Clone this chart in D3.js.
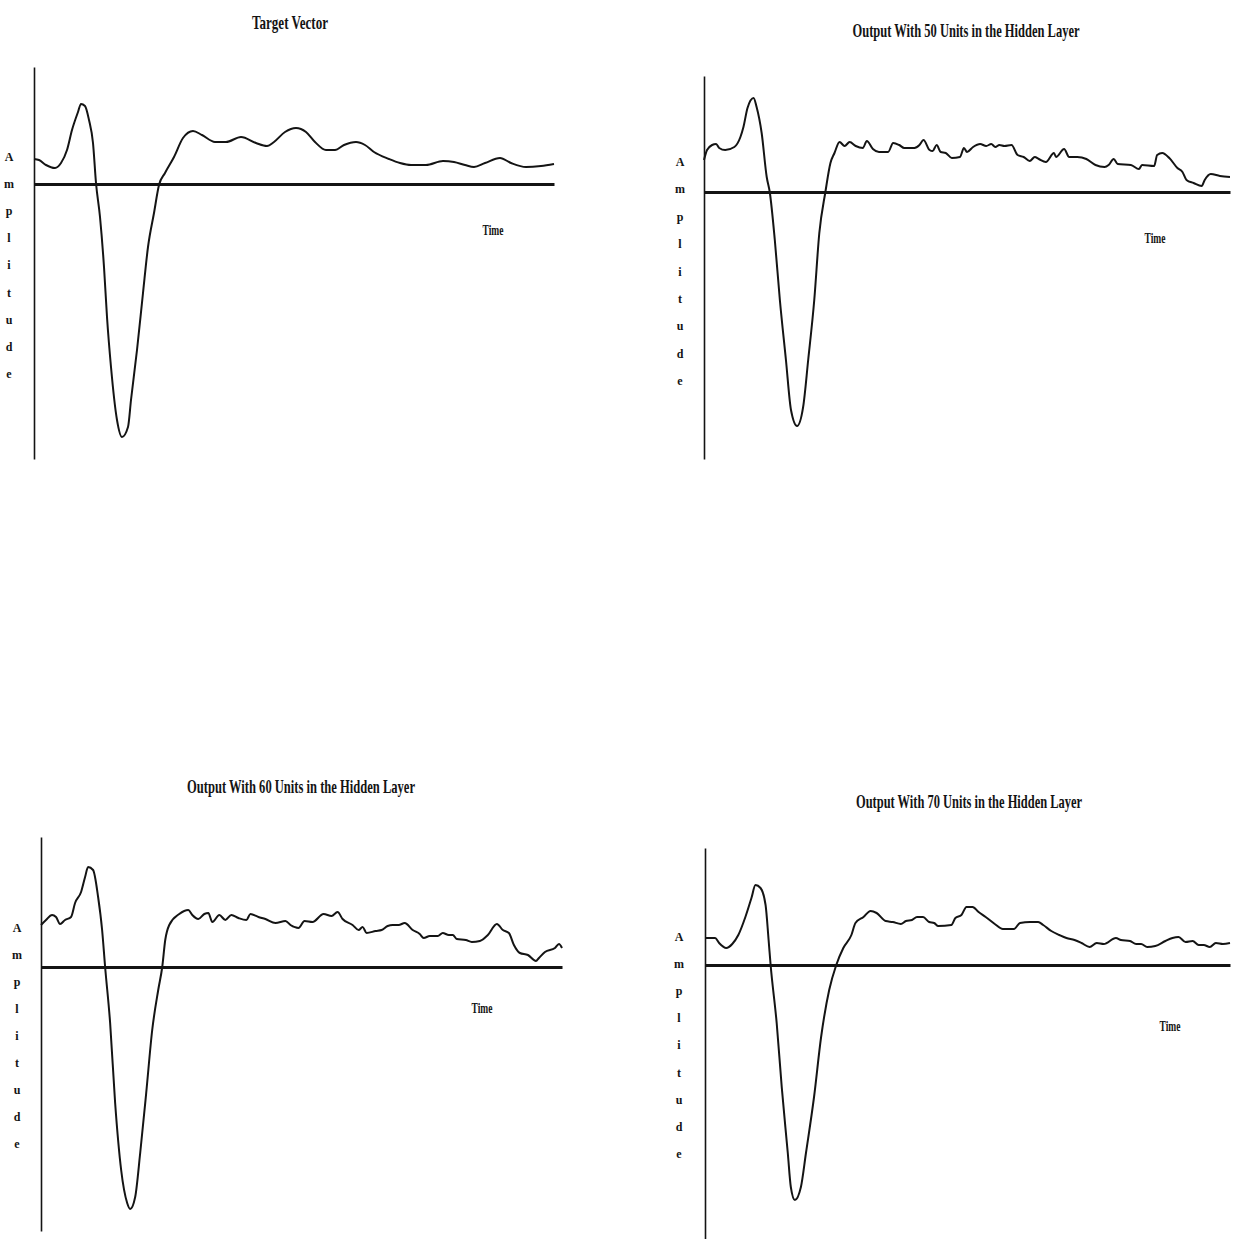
<!DOCTYPE html>
<html><head><meta charset="utf-8">
<script src="https://cdn.jsdelivr.net/npm/d3@7"></script>
<style>body{margin:0;background:#fff}</style>
</head><body>
<svg id="c" width="1238" height="1239"></svg>
<script>
// ---------- text ----------
const titles = [
  "Target Vector",
  "Output With 50 Units in the Hidden Layer",
  "Output With 60 Units in the Hidden Layer",
  "Output With 70 Units in the Hidden Layer"
];
const xLabel = "Time";
const yLabel = "Amplitude";
const timeDomain = [0, 520];

// ---------- series (time, amplitude) ----------
const targetTime = [0,5,12,21,27,33,38,44,47,51,55,59,62,66,70,73,77,83,88,94,97,103,109,114,120,125,131,140,149,159,168,181,192,207,222,233,240,251,262,272,281,292,301,310,322,331,340,355,366,377,392,409,420,431,440,451,466,477,492,507,520];
const targetAmp  = [0.25,0.24,0.19,0.16,0.21,0.34,0.54,0.72,0.80,0.78,0.64,0.41,0.01,-0.33,-0.83,-1.33,-1.83,-2.36,-2.53,-2.43,-2.16,-1.66,-1.09,-0.63,-0.29,-0.01,0.11,0.27,0.46,0.53,0.49,0.42,0.42,0.47,0.41,0.38,0.42,0.52,0.56,0.52,0.42,0.34,0.34,0.39,0.42,0.39,0.32,0.25,0.21,0.19,0.19,0.23,0.22,0.19,0.17,0.21,0.26,0.21,0.17,0.18,0.20];

const out50Time = [0,3,8,12,15,21,30,36,39,43,49,52,57,62,65,70,75,81,86,92,98,103,109,114,120,125,129,134,139,144,150,157,161,167,173,182,187,193,198,208,213,217,223,226,230,234,239,245,253,257,260,266,273,279,284,288,292,297,304,310,316,322,327,331,338,346,348,356,361,369,378,387,396,400,405,409,422,430,433,445,448,453,460,468,473,477,484,492,495,501,510,520];
const out50Amp  = [0.32,0.42,0.47,0.48,0.44,0.42,0.45,0.55,0.65,0.84,0.94,0.85,0.59,0.15,0.00,-0.48,-1.08,-1.68,-2.18,-2.34,-2.15,-1.68,-1.08,-0.41,0.00,0.29,0.39,0.50,0.46,0.50,0.46,0.44,0.51,0.43,0.40,0.40,0.49,0.47,0.44,0.44,0.47,0.52,0.42,0.41,0.47,0.40,0.39,0.34,0.35,0.44,0.40,0.45,0.48,0.46,0.48,0.45,0.47,0.46,0.47,0.37,0.35,0.31,0.35,0.33,0.30,0.39,0.35,0.43,0.35,0.35,0.33,0.27,0.25,0.27,0.33,0.28,0.27,0.23,0.27,0.26,0.37,0.39,0.34,0.24,0.20,0.12,0.09,0.06,0.12,0.18,0.16,0.15];

const out60Time = [0,5,11,15,19,24,30,34,40,44,47,52,57,61,64,69,74,80,86,89,94,99,105,111,117,121,124,128,138,147,151,157,163,167,171,178,184,190,197,205,209,217,224,234,244,249,257,263,271,282,290,296,301,311,317,321,325,334,340,346,351,357,363,371,378,382,388,396,401,407,411,415,424,430,438,446,455,461,467,472,478,486,494,497,503,513,517,520];
const out60Amp  = [0.42,0.47,0.52,0.50,0.43,0.47,0.50,0.64,0.75,0.90,1.00,0.97,0.70,0.37,0.00,-0.56,-1.36,-2.03,-2.36,-2.42,-2.30,-1.86,-1.26,-0.63,-0.23,0.00,0.27,0.42,0.53,0.57,0.52,0.48,0.53,0.54,0.45,0.52,0.47,0.52,0.49,0.47,0.53,0.50,0.48,0.44,0.46,0.42,0.39,0.46,0.45,0.53,0.51,0.55,0.48,0.42,0.37,0.40,0.34,0.36,0.37,0.41,0.42,0.42,0.44,0.37,0.33,0.29,0.31,0.31,0.34,0.32,0.32,0.28,0.27,0.25,0.26,0.32,0.43,0.37,0.34,0.22,0.14,0.12,0.06,0.09,0.15,0.19,0.23,0.19];

const out70Time = [0,10,14,21,27,33,40,46,50,55,60,63,65,71,76,82,85,89,95,100,108,115,123,130,137,145,149,157,164,170,179,186,194,199,205,210,216,222,227,231,244,248,254,259,265,271,278,287,295,306,312,322,330,335,343,351,358,366,373,381,388,395,407,412,421,427,432,438,446,456,463,469,476,483,489,494,500,506,513,520];
const out70Amp  = [0.27,0.27,0.22,0.17,0.21,0.30,0.48,0.67,0.80,0.77,0.60,0.25,0.00,-0.58,-1.22,-1.88,-2.22,-2.35,-2.22,-1.88,-1.32,-0.72,-0.25,0.00,0.17,0.30,0.42,0.48,0.54,0.52,0.44,0.43,0.41,0.44,0.45,0.48,0.48,0.43,0.42,0.39,0.40,0.47,0.50,0.58,0.58,0.53,0.48,0.41,0.36,0.36,0.42,0.43,0.43,0.40,0.34,0.30,0.27,0.25,0.22,0.18,0.22,0.21,0.27,0.25,0.24,0.21,0.21,0.18,0.19,0.24,0.27,0.28,0.23,0.24,0.20,0.20,0.18,0.22,0.21,0.22];

const seriesTimes = [targetTime, out50Time, out60Time, out70Time];
const seriesAmps  = [targetAmp, out50Amp, out60Amp, out70Amp];

// ---------- layout (pixels) ----------
const panels = [
  {x0:34,  x1:554,  zero:184, top:67,  bottom:459,  tx:290, ty:22,  tw:76,  lx:493,  ly:230,  ax:9,   ay:157, as:27.1},
  {x0:704, x1:1230, zero:192, top:76,  bottom:459,  tx:966, ty:30,  tw:227, lx:1155, ly:238,  ax:680, ay:162, as:27.4},
  {x0:41,  x1:562,  zero:967, top:837, bottom:1231, tx:301, ty:786, tw:228, lx:482,  ly:1008, ax:17,  ay:928, as:27.0},
  {x0:705, x1:1230, zero:965, top:848, bottom:1239, tx:969, ty:801, tw:226, lx:1170, ly:1026, ax:679, ay:937, as:27.1}
];
const ppu = 100; // pixels per amplitude unit

const svg = d3.select("#c");
const ink = "#141414";
const serif = "'Liberation Serif','DejaVu Serif',serif";

panels.forEach((p, i) => {
  const g = svg.append("g");
  const x = d3.scaleLinear().domain(timeDomain).range([p.x0, p.x1]);
  const y = d3.scaleLinear()
    .domain([-(p.bottom - p.zero) / ppu, (p.zero - p.top) / ppu])
    .range([p.bottom, p.top]);

  // y axis (plain line)
  const ya = g.append("g").attr("transform", `translate(${p.x0},0)`)
    .call(d3.axisLeft(y).tickValues([]).tickSizeOuter(0));
  ya.select(".domain").attr("stroke", ink).attr("stroke-width", 1.6);

  // zero line (time axis)
  const xa = g.append("g").attr("transform", `translate(0,${y(0)})`)
    .call(d3.axisBottom(x).tickValues([]).tickSizeOuter(0));
  xa.select(".domain").attr("stroke", ink).attr("stroke-width", 3);

  // curve
  const data = seriesTimes[i].map((t, k) => [t, seriesAmps[i][k]]);
  g.append("path").datum(data)
    .attr("fill", "none").attr("stroke", ink).attr("stroke-width", 2)
    .attr("stroke-linejoin", "round")
    .attr("d", d3.line().x(d => x(d[0])).y(d => y(d[1])).curve(d3.curveMonotoneX));

  // title
  g.append("text").attr("x", p.tx).attr("y", p.ty)
    .attr("text-anchor", "middle").attr("dominant-baseline", "central")
    .attr("font-family", serif).attr("font-weight", "bold").attr("font-size", 19)
    .attr("textLength", p.tw).attr("lengthAdjust", "spacingAndGlyphs")
    .attr("fill", ink).text(titles[i]);

  // Time label
  g.append("text").attr("x", p.lx).attr("y", p.ly)
    .attr("text-anchor", "middle").attr("dominant-baseline", "central")
    .attr("font-family", serif).attr("font-weight", "bold").attr("font-size", 15)
    .attr("textLength", 21).attr("lengthAdjust", "spacingAndGlyphs")
    .attr("fill", ink).text(xLabel);

  // Amplitude label, stacked letters
  yLabel.split("").forEach((ch, k) => {
    g.append("text").attr("x", p.ax).attr("y", p.ay + k * p.as)
      .attr("text-anchor", "middle").attr("dominant-baseline", "central")
      .attr("font-family", serif).attr("font-weight", "bold").attr("font-size", 12)
      .attr("fill", ink).text(ch);
  });
});
</script>
</body></html>
